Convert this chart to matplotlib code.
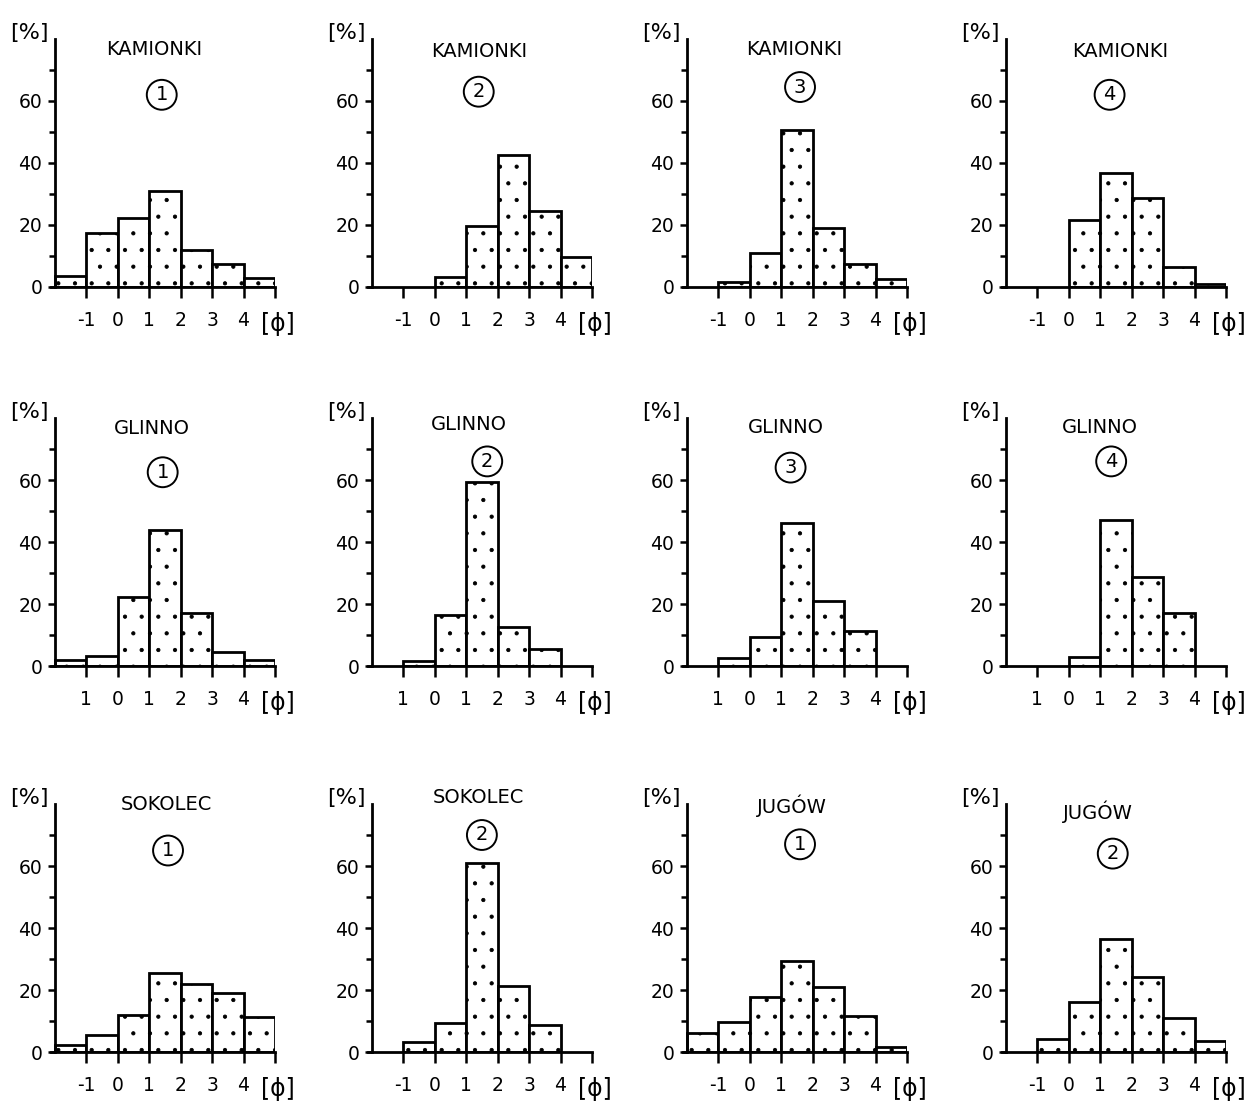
import matplotlib
matplotlib.use('Agg')
import matplotlib.pyplot as plt

# grain-size classes in phi units (bin edges)
phi_edges = [-2, -1, 0, 1, 2, 3, 4, 5]

# weight percent per class
kamionki_1 = [3.4, 17.5, 22.2, 31.0, 12.0, 7.3, 2.8]
kamionki_2 = [0, 0, 3.3, 19.7, 42.6, 24.4, 9.7]
kamionki_3 = [0, 1.5, 11.1, 50.7, 18.9, 7.5, 2.7]
kamionki_4 = [0, 0, 21.5, 36.8, 28.8, 6.6, 0.9]
glinno_1 = [2.0, 3.2, 22.1, 44.0, 17.1, 4.5, 2.0]
glinno_2 = [0, 1.7, 16.5, 59.5, 12.5, 5.5, 0]
glinno_3 = [0, 2.5, 9.5, 46.1, 21.0, 11.4, 0]
glinno_4 = [0, 0, 3.0, 47.2, 28.7, 17.1, 0]
sokolec_1 = [2.2, 5.6, 11.8, 25.6, 21.9, 18.9, 11.3]
sokolec_2 = [0, 3.3, 9.5, 61.0, 21.4, 8.8, 0]
jugow_1 = [6.2, 9.8, 17.9, 29.5, 21.0, 11.7, 1.6]
jugow_2 = [0, 4.2, 16.1, 36.5, 24.2, 10.9, 3.6]

site_names = ['KAMIONKI', 'KAMIONKI', 'KAMIONKI', 'KAMIONKI',
              'GLINNO', 'GLINNO', 'GLINNO', 'GLINNO',
              'SOKOLEC', 'SOKOLEC', 'JUGÓW', 'JUGÓW']
sample_no = ['1', '2', '3', '4', '1', '2', '3', '4', '1', '2', '1', '2']
samples = [kamionki_1, kamionki_2, kamionki_3, kamionki_4,
           glinno_1, glinno_2, glinno_3, glinno_4,
           sokolec_1, sokolec_2, jugow_1, jugow_2]

phi_labels = ['-1', '0', '1', '2', '3', '4']
phi_labels_glinno = ['1', '0', '1', '2', '3', '4']

# where the site name and the circled number sit (data coords)
name_pos = [(1.17, 76.5), (1.4, 76), (1.4, 76.5), (1.64, 76),
            (1.08, 76.5), (1.08, 78), (1.15, 77), (1.0, 77),
            (1.55, 80), (1.4, 82), (1.35, 79.5), (0.94, 77.5)]
circle_pos = [(1.4, 62), (1.4, 63), (1.6, 64.5), (1.3, 62),
              (1.43, 62.5), (1.67, 66), (1.3, 64), (1.35, 66),
              (1.6, 65), (1.5, 70), (1.6, 67), (1.4, 64)]

plt.rcParams['font.family'] = 'DejaVu Sans'
plt.rcParams['hatch.linewidth'] = 0.6

fig = plt.figure(figsize=(12.49, 11.04), dpi=100)
W, H = 1249.0, 1104.0

col_axis_px = [55, 372, 687, 1006]
row_zero_px = [287, 666, 1052]
ax_w_px = 224
ax_h_px = 248

for i, vals in enumerate(samples):
    r, c = divmod(i, 4)
    left = (col_axis_px[c] - 4) / W
    bottom = (H - row_zero_px[r]) / H
    ax = fig.add_axes([left, bottom, ax_w_px / W, ax_h_px / H])

    for x0, v in zip(phi_edges[:-1], vals):
        if v > 0:
            ax.bar(x0, v, width=1, align='edge', facecolor='white',
                   edgecolor='black', linewidth=2.0, hatch='.')

    ax.set_xlim(-2.12, 5.0)
    ax.set_ylim(0, 80)
    ax.spines['top'].set_visible(False)
    ax.spines['right'].set_visible(False)
    ax.spines['left'].set_position(('data', -2))
    for s in ('left', 'bottom'):
        ax.spines[s].set_linewidth(2.0)

    ax.set_yticks([0, 20, 40, 60])
    ax.set_yticks([10, 30, 50, 70], minor=True)
    ax.set_xticks(phi_edges[1:])
    labels = phi_labels_glinno if site_names[i] == 'GLINNO' else phi_labels
    ax.set_xticklabels(labels + [''])
    ax.tick_params(axis='y', which='major', length=5, width=1.8, pad=4, labelsize=13.5)
    ax.tick_params(axis='y', which='minor', length=4, width=1.8)
    ax.tick_params(axis='x', length=8, width=1.8, pad=9, labelsize=13.5)

    tx, ty = name_pos[i]
    ax.text(tx, ty, site_names[i], ha='center', va='center', fontsize=14)
    cx, cy = circle_pos[i]
    ax.text(cx, cy, sample_no[i], ha='center', va='center', fontsize=14,
            bbox=dict(boxstyle='circle,pad=0.28', fc='white', ec='black', lw=1.4))

    ax.text(-2.2, 82, '[%]', ha='right', va='center', fontsize=16, clip_on=False)
    ax.text(5.1, -12, '[ϕ]', ha='center', va='center', fontsize=17, clip_on=False)

fig.savefig('out.png', dpi=100, facecolor='white')
